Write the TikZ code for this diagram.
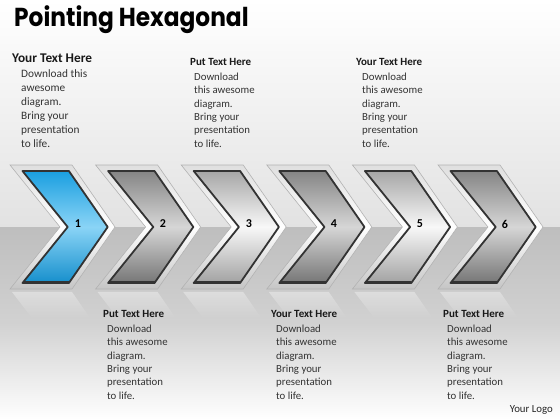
\documentclass[tikz,border=0pt]{standalone}
\usepackage{fontspec}
\setmainfont{Carlito}
\newfontfamily\titlefont{Poppins}
\usepackage{tikz}
\usetikzlibrary{fadings}

\definecolor{bluetop}{HTML}{1A9FE0}
\definecolor{bluemid}{HTML}{8AD4F6}
\definecolor{bluebot}{HTML}{168FCC}
\definecolor{darktop}{HTML}{858585}
\definecolor{darkmid}{HTML}{D6D6D6}
\definecolor{darkbot}{HTML}{767676}
\definecolor{lighttop}{HTML}{A6A6A6}
\definecolor{lightmid}{HTML}{F8F8F8}
\definecolor{lightbot}{HTML}{A2A2A2}
\definecolor{floor}{HTML}{BEBEBE}
\definecolor{wall}{HTML}{E2E2E2}

\begin{document}
\begin{tikzpicture}[x=1pt, y=-1pt]
        \tikzset{
           frame/.style={
                        top color=gray!25,
                        bottom color=gray!45,
                        middle color=white,
                        draw=gray!60,
                        line width=0.6pt
                       },
           face/.style={
                        draw=black!80,
                        line width=1.8pt,
                        line join=round
                       },
           bluefill/.style={top color=bluetop, bottom color=bluebot, middle color=bluemid},
           darkfill/.style={top color=darktop, bottom color=darkbot, middle color=darkmid},
           lightfill/.style={top color=lighttop, bottom color=lightbot, middle color=lightmid},
           reflect/.style={fill=#1, fill opacity=0.35, path fading=south},
           chevron/.pic={
                        \path[reflect=white] (2,127) -- (62,127) -- (80,153) -- (22,153) -- cycle;
                        \path[frame] (0,0) -- (62,0) -- (105,62) -- (62,124) -- (0,124) -- (50,62) -- cycle;
                        \path[face,#1] (12.5,6) -- (58.9,6) -- (97.7,62) -- (58.9,118) -- (12.5,118) -- (57.7,62) -- cycle;
                        \path[draw=black!80, line width=2.5pt] (13,116.8) -- (59,116.8);
                       },
           num/.style={font=\bfseries\fontsize{12}{12}\selectfont, text=black},
           head/.style={anchor=base west, inner sep=0pt, font=\bfseries\fontsize{11}{12}\selectfont, text=black!90},
           body/.style={anchor=base west, inner sep=0pt, align=left, font=\fontsize{10.8}{13.3}\selectfont, text=black!80},
                 };
        %----------------
        \fill[top color=white, bottom color=wall] (0,0) rectangle (560,227);
        \fill[top color=floor, bottom color=white, middle color=floor!70!white] (0,227) rectangle (560,420);
        %----------------
        \node[anchor=base west, inner sep=0pt, font=\titlefont\bfseries\fontsize{26}{26}\selectfont] (title) at (14,27) {\scalebox{0.895}[1]{Pointing Hexagonal}};
        %----------------
        \pic (c1) at (10,165) {chevron=bluefill};
        \pic (c2) at (95.6,165) {chevron=darkfill};
        \pic (c3) at (181.2,165) {chevron=lightfill};
        \pic (c4) at (266.8,165) {chevron=darkfill};
        \pic (c5) at (352.4,165) {chevron=lightfill};
        \pic (c6) at (438,165) {chevron=darkfill};
        \node[num] (n1) at (78,224) {1};
        \node[num] (n2) at (163,224) {2};
        \node[num] (n3) at (249,224) {3};
        \node[num] (n4) at (334,224) {4};
        \node[num] (n5) at (420,224) {5};
        \node[num] (n6) at (505,224) {6};
        %----------------
        \node[head, font=\bfseries\fontsize{13.3}{14}\selectfont] (head1) at (12,63) {Your Text Here};
        \node[body, font=\fontsize{11.3}{14}\selectfont] (body1) at (21,147) {Download this\\awesome\\diagram.\\Bring your\\presentation\\to life.};
        \node[head] (head2) at (190,66) {Put Text Here};
        \node[body] (body2) at (194,147) {Download\\this awesome\\diagram.\\Bring your\\presentation\\to life.};
        \node[head] (head3) at (356,66) {Your Text Here};
        \node[body] (body3) at (362,147) {Download\\this awesome\\diagram.\\Bring your\\presentation\\to life.};
        \node[head] (head4) at (103,317) {Put Text Here};
        \node[body] (body4) at (107,399) {Download\\this awesome\\diagram.\\Bring your\\presentation\\to life.};
        \node[head] (head5) at (271,317) {Your Text Here};
        \node[body] (body5) at (276,399) {Download\\this awesome\\diagram.\\Bring your\\presentation\\to life.};
        \node[head] (head6) at (443,317) {Put Text Here};
        \node[body] (body6) at (447,399) {Download\\this awesome\\diagram.\\Bring your\\presentation\\to life.};
        \node[anchor=base east, inner sep=0pt, font=\fontsize{10.8}{12}\selectfont, text=black!85] (logo) at (553,412) {Your Logo};
        \useasboundingbox (0,0) rectangle (560,420);
\end{tikzpicture}
\end{document}
